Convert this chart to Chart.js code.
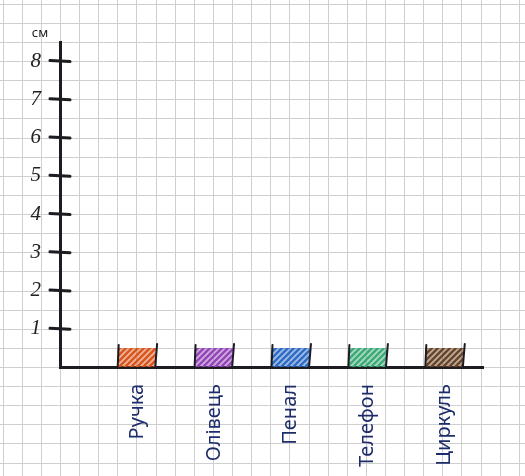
<!DOCTYPE html>
<html>
<head>
<meta charset="utf-8">
<script src="https://cdn.jsdelivr.net/npm/chart.js@4/dist/chart.umd.min.js"></script>
<style>
  html, body { margin: 0; padding: 0; background: #fff; }
  #wrap { width: 525px; height: 476px; }
</style>
</head>
<body>
<div id="wrap"><canvas id="c" width="525" height="476"></canvas></div>
<script>
// values
const categories = ['Ручка', 'Олівець', 'Пенал', 'Телефон', 'Циркуль'];
const lengths = [0.5, 0.5, 0.5, 0.5, 0.5];
const barColors = ['#d9561c', '#9446b8', '#2f6cc6', '#3daa78', '#6a4528'];
const yTickValues = [0, 1, 2, 3, 4, 5, 6, 7, 8];
const yUnit = 'см';

function hatch(color) {
   let p = document.createElement('canvas');
   p.width = 6; p.height = 6;
   let g = p.getContext('2d');
   g.fillStyle = color;
   g.globalAlpha = 0.45;
   g.fillRect(0, 0, 6, 6);
   g.globalAlpha = 1;
   g.strokeStyle = color;
   g.lineWidth = 2.4;
   g.beginPath();
   g.moveTo(-1, 7); g.lineTo(7, -1);
   g.moveTo(-4, 4); g.lineTo(4, -4);
   g.moveTo(2, 10); g.lineTo(10, 2);
   g.stroke();
   return g.createPattern(p, 'repeat');
}

// graph paper, anchored on the axis origin, 2 squares per unit
const paper = {
   id: 'paper',
   beforeDraw(chart) {
      const ctx = chart.ctx, ys = chart.scales.y;
      const step = (ys.getPixelForValue(0) - ys.getPixelForValue(1)) / 2;
      const x0 = chart.chartArea.left, y0 = ys.getPixelForValue(0);
      ctx.save();
      ctx.fillStyle = '#fff';
      ctx.fillRect(0, 0, chart.width, chart.height);
      ctx.strokeStyle = '#cfcfcf';
      ctx.lineWidth = 1;
      ctx.beginPath();
      for (let x = x0 - Math.ceil(x0 / step) * step; x < chart.width; x += step) {
         ctx.moveTo(Math.round(x) + 0.5, 0); ctx.lineTo(Math.round(x) + 0.5, chart.height);
      }
      for (let y = y0 - Math.ceil(y0 / step) * step; y < chart.height; y += step) {
         ctx.moveTo(0, Math.round(y) + 0.5); ctx.lineTo(chart.width, Math.round(y) + 0.5);
      }
      ctx.stroke();
      ctx.restore();
   },
   afterDraw(chart) {
      const ctx = chart.ctx, ys = chart.scales.y;
      const ax = chart.chartArea.left;
      ctx.save();
      ctx.strokeStyle = '#1c1c22';
      ctx.lineCap = 'round';
      // tick marks crossing the y axis
      ctx.lineWidth = 3;
      for (let v = 1; v <= 8; v++) {
         const y = ys.getPixelForValue(v);
         ctx.beginPath();
         ctx.moveTo(ax - 10, y - 0.5);
         ctx.lineTo(ax + 10, y + 0.5);
         ctx.stroke();
      }
      // bracket sides of each bar
      ctx.lineWidth = 2;
      const meta = chart.getDatasetMeta(0);
      meta.data.forEach((bar) => {
         const half = bar.width / 2;
         const base = bar.base;
         ctx.beginPath();
         ctx.moveTo(bar.x - half + 1, bar.y - 3);
         ctx.lineTo(bar.x - half, base);
         ctx.moveTo(bar.x + half + 1, bar.y - 4);
         ctx.lineTo(bar.x + half - 1, base + 1);
         ctx.stroke();
      });
      // unit label
      ctx.fillStyle = '#222';
      ctx.font = '13px "Noto Sans"';
      ctx.textAlign = 'center';
      ctx.textBaseline = 'middle';
      ctx.fillText(yUnit, ax - 20, chart.chartArea.top - 9);
      ctx.restore();
   }
};

new Chart(document.getElementById('c'), {
   type: 'bar',
   data: {
      datasets: [{
         data: lengths.map((v, i) => ({ x: i, y: v })),
         backgroundColor: barColors.map(hatch),
         borderWidth: 0,
         barPercentage: 0.5,
         categoryPercentage: 1
      }]
   },
   options: {
      responsive: false,
      devicePixelRatio: 1,
      animation: false,
      layout: { padding: { top: 42, right: 42, left: 0, bottom: 0 } },
      plugins: { legend: { display: false }, tooltip: { enabled: false } },
      scales: {
         x: {
            type: 'linear',
            offset: false,
            min: -1,
            max: 4.5,
            afterFit: (s) => { s.height = 109; },
            afterBuildTicks: (s) => { s.ticks = categories.map((c, i) => ({ value: i })); },
            grid: { display: false },
            border: { display: true, color: '#1c1c22', width: 3 },
            ticks: {
               autoSkip: false,
               minRotation: 90,
               maxRotation: 90,
               padding: 9,
               color: '#1d2c6a',
               font: { family: '"Noto Sans"', size: 20 },
               callback: (v) => categories[v]
            }
         },
         y: {
            min: 0,
            max: 8.5,
            afterFit: (s) => { s.width = 60; },
            afterBuildTicks: (s) => { s.ticks = yTickValues.map((v) => ({ value: v })); },
            grid: { display: false },
            border: { display: true, color: '#1c1c22', width: 3 },
            ticks: {
               padding: 11,
               color: '#222',
               font: { family: '"Liberation Serif"', style: 'italic', size: 21 },
               callback: (v) => (v > 0 ? String(v) : '')
            }
         }
      }
   },
   plugins: [paper]
});
</script>
</body>
</html>
